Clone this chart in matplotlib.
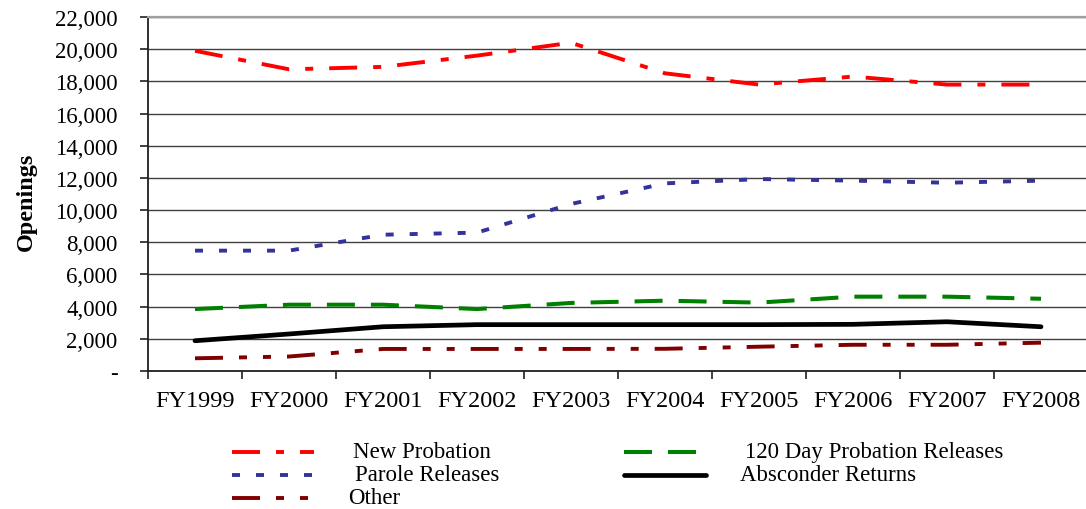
import matplotlib
matplotlib.use("Agg")
import matplotlib.pyplot as plt
from matplotlib.lines import Line2D

plt.rcParams['font.family'] = ['Liberation Serif', 'DejaVu Serif']
plt.rcParams['lines.scale_dashes'] = False

years = ["FY1999", "FY2000", "FY2001", "FY2002", "FY2003",
         "FY2004", "FY2005", "FY2006", "FY2007", "FY2008"]

new_probation = [19900, 18750, 18900, 19600, 20400, 18500, 17800, 18300, 17800, 17800]
parole = [7480, 7480, 8470, 8600, 10380, 11660, 11930, 11830, 11700, 11830]
day120 = [3850, 4120, 4120, 3850, 4230, 4370, 4250, 4620, 4620, 4490]
absconder = [1880, 2300, 2750, 2880, 2880, 2880, 2880, 2900, 3060, 2750]
other = [790, 900, 1370, 1370, 1370, 1380, 1510, 1630, 1630, 1760]

yticks = list(range(0, 22001, 2000))

# px -> pt at 100 dpi
px = 0.72
series = [
    ("New Probation", new_probation, "#FF0000", 2.8, (0, [28 * px, 16 * px, 8 * px, 16 * px])),
    ("Parole Releases", parole, "#333399", 2.8, (0, [8 * px, 16 * px])),
    ("Other", other, "#800000", 2.8, (0, [28 * px, 16 * px, 8 * px, 16 * px, 8 * px, 16 * px])),
    ("120 Day Probation Releases", day120, "#008000", 2.9, (0, [28 * px, 16 * px])),
    ("Absconder Returns", absconder, "#000000", 3.4, "-"),
]

fig = plt.figure(figsize=(10.86, 5.10), dpi=100)
ax = fig.add_axes([148 / 1086, 138 / 510, 940 / 1086, 354 / 510])

x = list(range(len(years)))
for name, vals, col, lw, ls in series:
    ax.plot(x, vals, color=col, lw=lw, linestyle=ls, dash_capstyle="butt",
            solid_capstyle="round", zorder=3)

ax.set_xlim(-0.5, len(years) - 0.5)
ax.set_ylim(0, 22000)
ax.set_yticks(yticks)
ax.set_yticklabels(["-" if v == 0 else f"{v:,}" for v in yticks])
ax.set_xticks(x)
ax.set_xticklabels(years)
ax.set_xticks([i - 0.5 for i in range(len(years) + 1)], minor=True)
ax.tick_params(axis="x", which="major", length=0, pad=14, labelsize=17.5)
ax.tick_params(axis="x", which="minor", length=6, width=1.2, direction="out", color="#202020")
ax.tick_params(axis="y", length=6, width=1.2, direction="out", pad=16, labelsize=16.5, color="#202020")

ax.yaxis.grid(True, color="#404040", lw=1.0)
ax.set_axisbelow(True)
for s in ["left", "bottom"]:
    ax.spines[s].set_color("#202020")
    ax.spines[s].set_linewidth(1.3)
ax.spines["top"].set_color("#a0a0a0")
ax.spines["top"].set_linewidth(1.6)
ax.spines["right"].set_visible(False)

ax.set_ylabel("Openings", fontsize=17.5, fontweight="bold")
ax.yaxis.set_label_coords((37 - 148) / 940, 0.48)

# legend, drawn in pixel coordinates of the figure
lax = fig.add_axes([0, 0, 1, 1])
lax.set_xlim(0, 1086)
lax.set_ylim(510, 0)
lax.axis("off")
lax.patch.set_alpha(0)
leg_pos = [
    (232, 453, 353),
    (232, 476, 355),
    (232, 499, 348),
    (624, 453, 745),
    (624, 476, 740),
]
for (name, vals, col, lw, ls), (hx, hy, tx) in zip(series, leg_pos):
    lax.add_line(Line2D([hx, hx + 82], [hy, hy], color=col, lw=lw, linestyle=ls,
                        dash_capstyle="butt", solid_capstyle="round"))
    lax.text(tx, hy, name, fontsize=16.5, va="center", ha="left")

fig.savefig("out.png", dpi=100)
